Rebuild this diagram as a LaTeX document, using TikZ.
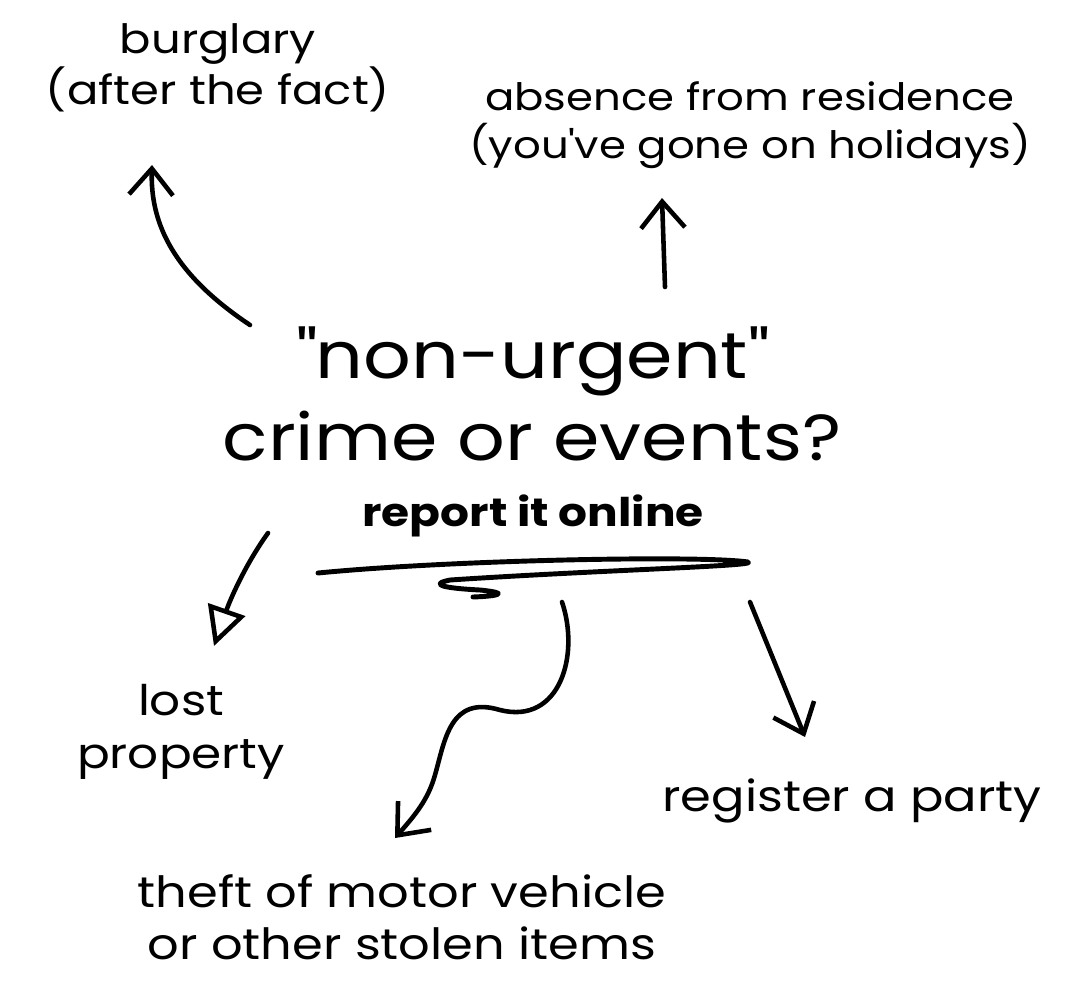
\documentclass[tikz,border=0pt]{standalone}
\usepackage{fontspec}
\setmainfont{Poppins}[FakeStretch=1.15]
\usetikzlibrary{arrows.meta}

\tikzset{
    txt/.style={align=center},
    barb/.style={-{Straight Barb[length=15pt,width=25pt]}},
}

\begin{document}
\begin{tikzpicture}[x=0.02cm,y=-0.02cm,line width=2.6pt,line cap=round,line join=round]
    \useasboundingbox (0,0) rectangle (1068,1002);
    \node[txt,font=\fontsize{37}{46.5}\selectfont] (main) at (532,394) {\textquotedbl non-urgent\textquotedbl\\crime or events?};
    \node[txt,font=\bfseries\fontsize{22.5}{27}\selectfont] (online) at (533,516) {report it online};
    \node[txt,font=\fontsize{23}{24.5}\selectfont] (burglary) at (218,68) {burglary\\(after the fact)};
    \node[txt,font=\fontsize{21.5}{27}\selectfont] (absence) at (750,125) {absence from residence\\(you\textquotesingle ve gone on holidays)};
    \node[txt,font=\fontsize{24}{30}\selectfont] (lost) at (181,732) {lost\\property};
    \node[txt,font=\fontsize{24.5}{29.5}\selectfont] (theft) at (402,917) {theft of motor vehicle\\or other stolen items};
    \node[txt,font=\fontsize{24.5}{29.5}\selectfont] (party) at (852,801) {register a party};
    \coordinate (b1) at (250,325);
    \coordinate (b2) at (152,165);
    \coordinate (h1) at (665,287);
    \coordinate (h2) at (662,198);
    \coordinate (l1) at (268,533);
    \coordinate (l2) at (214,646);
    \coordinate (t1) at (562,602);
    \coordinate (t2) at (395,838);
    \coordinate (r1) at (750,602);
    \coordinate (r2) at (805,737);
    \draw[barb] (b1) .. controls (175,275) and (150,225) .. (b2);
    \draw[barb] (h1) -- (h2);
    \draw[-{Triangle[open,length=22pt,width=22pt]}] (l1) .. controls (245,565) and (230,600) .. (l2);
    \draw[barb] (t1) .. controls (580,655) and (560,725) .. (500,710)
        .. controls (450,695) and (445,740) .. (435,775)
        .. controls (428,800) and (415,815) .. (t2);
    \draw[barb] (r1) -- (r2);
    \draw[line width=2.8pt] (318,573) .. controls (450,560) and (700,555) .. (748,562)
        .. controls (760,566) and (600,570) .. (450,580)
        .. controls (430,584) and (440,588) .. (480,590)
        .. controls (510,593) and (500,596) .. (473,597);
\end{tikzpicture}
\end{document}
